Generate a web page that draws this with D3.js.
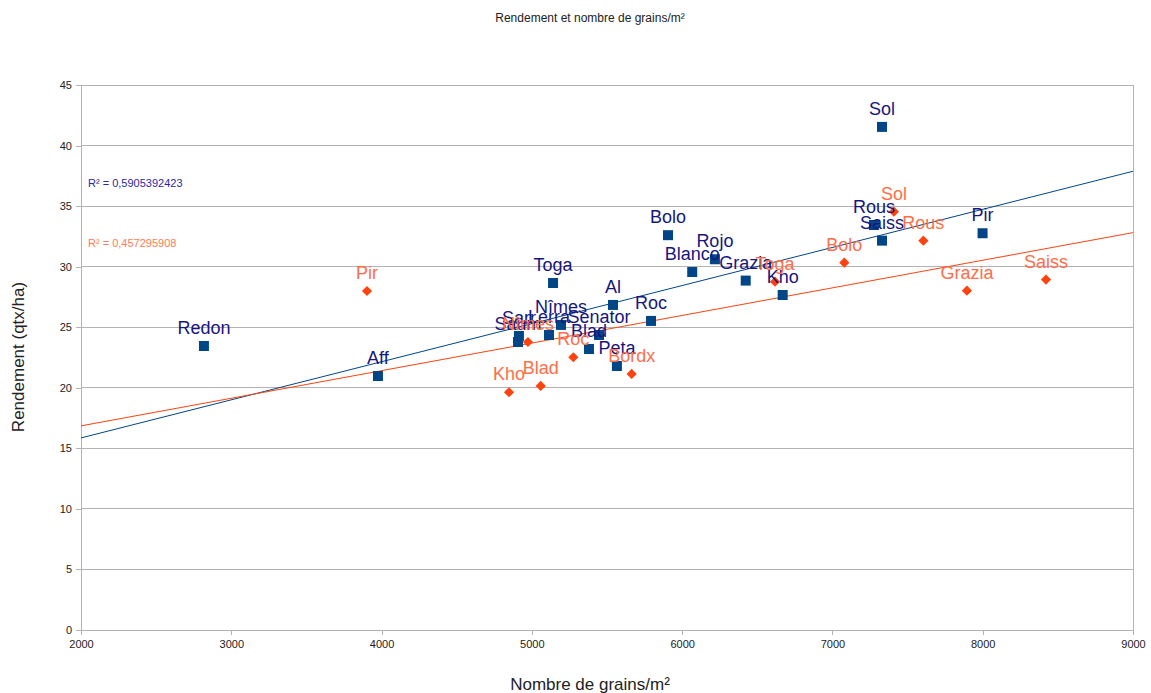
<!DOCTYPE html>
<html><head><meta charset="utf-8">
<script src="https://cdn.jsdelivr.net/npm/d3@7"></script>
<style>body{margin:0;background:#fff;font-family:"Liberation Sans",Arial,sans-serif;}</style>
</head><body><svg id="c" width="1151" height="693"></svg>
<script>
const blueNames = ["Redon","Aff","Sol","Rous","Saiss","Pir","Bolo","Blanco","Rojo","Grazia","Kho","Toga","Al","Roc","Nîmes","Lerra","Senator","Blad","Peta","Sarr","Saum"];
const blueX = [2818,3976,7330,7276,7330,7999,5906,6067,6218,6423,6669,5141,5540,5793,5194,5114,5447,5380,5566,4914,4908];
const blueY = [23.45,20.97,41.54,33.44,32.15,32.76,32.6,29.56,30.61,28.85,27.66,28.65,26.84,25.52,25.19,24.36,24.36,23.2,21.8,24.28,23.78];
const orangeNames = ["Pir","Kho","Blad","Roc","Bordx","Nîmes","Toga","Bolo","Sol","Rous","Grazia","Saiss"];
const orangeX = [3903,4848,5059,5276,5664,4974,6618,7079,7409,7605,7895,8421];
const orangeY = [27.99,19.63,20.15,22.52,21.14,23.78,28.76,30.33,34.54,32.15,28.02,28.93];
const r2Labels = ["R² = 0,5905392423","R² = 0,457295908"];
const xTicks = [2000,3000,4000,5000,6000,7000,8000,9000];
const yTicks = [0,5,10,15,20,25,30,35,40,45];
const title = "Rendement et nombre de grains/m²";
const xTitle = "Nombre de grains/m²";
const yTitle = "Rendement (qtx/ha)";

const svg = d3.select("#c");
const L=81,R=1133,T=85,B=630;
const x = d3.scaleLinear().domain([2000,9000]).range([L,R]);
const y = d3.scaleLinear().domain([0,45]).range([B,T]);
const grid="#b3b3b3";

svg.append("g").selectAll("line").data(yTicks).join("line")
  .attr("x1",L).attr("x2",R).attr("y1",d=>y(d)).attr("y2",d=>y(d))
  .attr("stroke",grid).attr("stroke-width",1).attr("shape-rendering","crispEdges");

const xa = svg.append("g").attr("transform",`translate(0,${B})`)
  .call(d3.axisBottom(x).tickValues(xTicks).tickSize(5).tickPadding(5).tickFormat(d3.format("d")));
const ya = svg.append("g").attr("transform",`translate(${L},0)`)
  .call(d3.axisLeft(y).tickValues(yTicks).tickSize(5).tickPadding(4).tickFormat(d3.format("d")));
[xa,ya].forEach(a=>{
  a.selectAll("path,line").attr("stroke",grid).attr("shape-rendering","crispEdges");
  a.selectAll("text").attr("fill","#222").style("font-size","11px").style("font-family","Liberation Sans, Arial, sans-serif");
});
svg.append("line").attr("x1",R).attr("x2",R).attr("y1",T).attr("y2",B).attr("stroke",grid).attr("shape-rendering","crispEdges");

function reg(xs,ys){
  const mx=d3.mean(xs), my=d3.mean(ys);
  let sxy=0,sxx=0; xs.forEach((v,i)=>{sxy+=(v-mx)*(ys[i]-my); sxx+=(v-mx)*(v-mx);});
  const b=sxy/sxx; return {a:my-b*mx,b};
}
const series=[
  {names:blueNames,xs:blueX,ys:blueY,mark:"#004586",lab:"#16167e",size:100,rot:0},
  {names:orangeNames,xs:orangeX,ys:orangeY,mark:"#ff420e",lab:"#ff6e48",size:52,rot:45}
];
svg.append("clipPath").attr("id","pc").append("rect").attr("x",L).attr("y",T).attr("width",R-L).attr("height",B-T);
series.forEach(s=>{
  const r=reg(s.xs,s.ys);
  svg.append("line").attr("clip-path","url(#pc)")
    .attr("x1",x(2000)).attr("y1",y(r.a+r.b*2000)).attr("x2",x(9000)).attr("y2",y(r.a+r.b*9000))
    .attr("stroke",s.mark).attr("stroke-width",1);
});
series.forEach(s=>{
  const pts=s.names.map((n,i)=>({n,x:s.xs[i],y:s.ys[i]}));
  svg.append("g").selectAll("path").data(pts).join("path")
    .attr("transform",d=>`translate(${x(d.x)},${y(d.y)}) rotate(${s.rot})`)
    .attr("d",d3.symbol().type(d3.symbolSquare).size(s.size)).attr("fill",s.mark);
});
series.forEach(s=>{
  const pts=s.names.map((n,i)=>({n,x:s.xs[i],y:s.ys[i]}));
  svg.append("g").selectAll("text").data(pts).join("text")
    .attr("x",d=>x(d.x)).attr("y",d=>y(d.y)-12).attr("text-anchor","middle")
    .attr("fill",s.lab).style("font-size","18px").text(d=>d.n);
});
svg.append("text").attr("x",88).attr("y",187).attr("fill","#2a2aa0").style("font-size","11px").text(r2Labels[0]);
svg.append("text").attr("x",88).attr("y",247).attr("fill","#ff7a55").style("font-size","11px").text(r2Labels[1]);

svg.append("text").attr("x",590).attr("y",22).attr("text-anchor","middle").attr("fill","#222").style("font-size","12px").text(title);
svg.append("text").attr("x",590).attr("y",690).attr("text-anchor","middle").attr("fill","#222").style("font-size","17px").text(xTitle);
svg.append("text").attr("transform","translate(24,357) rotate(-90)").attr("text-anchor","middle").attr("fill","#222").style("font-size","17px").text(yTitle);
</script></body></html>
